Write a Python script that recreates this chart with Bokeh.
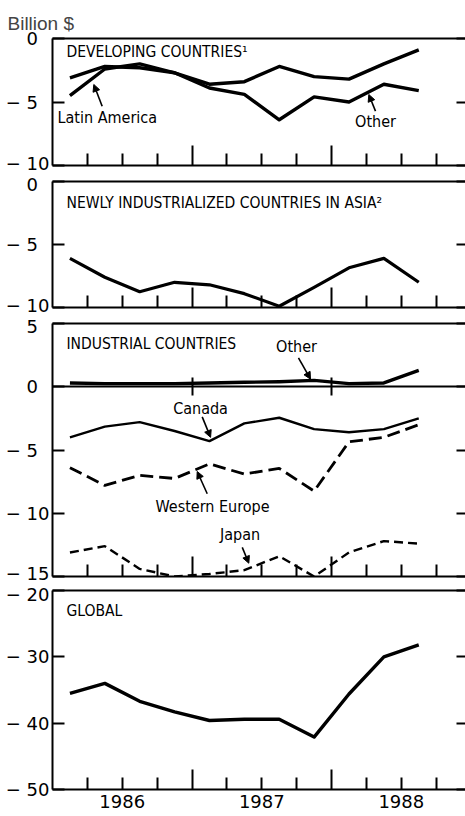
from bokeh.plotting import figure
from bokeh.models import (Range1d, FixedTicker, LinearAxis, Label, Arrow,
                          NormalHead, ColumnDataSource)
from bokeh.layouts import column
from bokeh.embed import file_html
from bokeh.resources import INLINE

# ---------------- data (billion $, quarterly) ----------------
quarters = ["1986Q1", "1986Q2", "1986Q3", "1986Q4",
            "1987Q1", "1987Q2", "1987Q3", "1987Q4",
            "1988Q1", "1988Q2", "1988Q3"]

latin_america    = [-4.5, -2.4, -2.0, -2.7, -3.6, -3.4, -2.2, -3.0, -3.2, -2.0, -0.9]
other_developing = [-3.1, -2.2, -2.3, -2.7, -3.9, -4.4, -6.4, -4.6, -5.0, -3.6, -4.1]

newly_industrialized_asia = [-6.1, -7.6, -8.75, -8.0, -8.2, -8.9, -9.9, -8.4, -6.85, -6.1, -8.0]

other_industrial = [0.3, 0.25, 0.25, 0.25, 0.3, 0.35, 0.4, 0.5, 0.25, 0.3, 1.3]
canada           = [-4.0, -3.15, -2.8, -3.5, -4.3, -2.9, -2.45, -3.35, -3.6, -3.35, -2.5]
western_europe   = [-6.4, -7.8, -7.0, -7.25, -6.1, -6.9, -6.45, -8.25, -4.35, -4.0, -3.0]
japan            = [-13.1, -12.6, -14.4, -15.0, -14.8, -14.5, -13.4, -15.0, -13.1, -12.2, -12.4]

global_balance = [-35.5, -34.0, -36.7, -38.3, -39.6, -39.4, -39.4, -42.1, -35.6, -30.0, -28.2]

years = [1986, 1987, 1988]
year_labels = ["1986", "1987", "1988"]

dev_ticks = [0, -5, -10]
dev_tick_labels = ["0\u2007", "\u2212 5\u2007", "\u2212 10"]
nic_ticks = [0, -5, -10]
nic_tick_labels = ["0\u2007", "\u2212 5\u2007", "\u2212 10"]
ind_ticks = [5, 0, -5, -10, -15]
ind_tick_labels = ["5\u2007", "0\u2007", "\u2212 5\u2007", "\u2212 10", "\u2212 15"]
glob_ticks = [-20, -30, -40, -50]
glob_tick_labels = ["\u2212 20", "\u2212 30", "\u2212 40", "\u2212 50"]

# ---------------- helpers ----------------
def qpos(q):
    return int(q[:4]) + (int(q[5]) - 0.5) / 4.0

x = [qpos(q) for q in quarters]

src = ColumnDataSource(dict(
    x=x, la=latin_america, od=other_developing, nic=newly_industrialized_asia,
    oi=other_industrial, ca=canada, we=western_europe, jp=japan, gl=global_balance))

NUM_FONT = "'DejaVu Sans', sans-serif"
NARROW = "'DejaVu Sans Condensed', sans-serif"
REG = "'Liberation Sans', Arial, sans-serif"

year_ticks = years[1:]
quarter_ticks = [y + k / 4.0 for y in years for k in (1, 2, 3)]

X_RANGE = Range1d(1986.0, 1988.96)


def hide_labels(axis):
    axis.major_label_text_color = None
    axis.major_label_text_alpha = 0
    axis.major_label_text_font_size = "1px"
    axis.major_label_standoff = 0


def make_panel(height, yr, yticks, ylabels, top, bottom, title=None):
    p = figure(width=465, height=height, x_range=X_RANGE, y_range=Range1d(*yr),
               output_backend="svg", toolbar_location=None,
               x_axis_type=None, y_axis_type=None,
               min_border_left=52, min_border_right=0,
               min_border_top=top, min_border_bottom=bottom)
    p.outline_line_color = None
    p.background_fill_color = "white"
    p.border_fill_color = "white"

    left = LinearAxis(ticker=FixedTicker(ticks=yticks, minor_ticks=[]),
                      major_label_overrides={t: l for t, l in zip(yticks, ylabels)},
                      axis_line_width=2, axis_line_color="black",
                      major_tick_in=12, major_tick_out=0, major_tick_line_width=2,
                      minor_tick_in=0, minor_tick_out=0,
                      major_label_standoff=3,
                      major_label_text_font=NUM_FONT,
                      major_label_text_font_size="18px",
                      major_label_text_color="black")
    p.add_layout(left, "left")

    right = LinearAxis(ticker=FixedTicker(ticks=yticks, minor_ticks=[]),
                       axis_line_color=None,
                       major_tick_in=9, major_tick_out=0, major_tick_line_width=2,
                       minor_tick_in=0, minor_tick_out=0)
    hide_labels(right)
    p.add_layout(right, "right")

    top_axis = LinearAxis(ticker=FixedTicker(ticks=[], minor_ticks=[]),
                          axis_line_width=2, axis_line_color="black",
                          major_tick_in=0, major_tick_out=0,
                          minor_tick_in=0, minor_tick_out=0)
    hide_labels(top_axis)
    p.add_layout(top_axis, "above")

    bottom_axis = LinearAxis(ticker=FixedTicker(ticks=year_ticks, minor_ticks=quarter_ticks),
                             axis_line_width=2, axis_line_color="black",
                             major_tick_in=20, major_tick_out=0, major_tick_line_width=2,
                             minor_tick_in=12, minor_tick_out=0, minor_tick_line_width=2,
                             minor_tick_line_color="black")
    hide_labels(bottom_axis)
    p.add_layout(bottom_axis, "below")

    if title is not None:
        lbl = Label(x=1986.1, y=title[1], text=title[0], text_font=NARROW,
                    text_font_size="15.5px", text_baseline="middle",
                    text_align="left", text_color="black")
        p.add_layout(lbl)
    return p


def note(p, xx, yy, text, align="center"):
    p.add_layout(Label(x=xx, y=yy, text=text, text_font=NARROW,
                       text_font_size="16px", text_baseline="middle",
                       text_align=align, text_color="black"))


def arrow(p, x0, y0, x1, y1):
    p.add_layout(Arrow(end=NormalHead(size=7, fill_color="black", line_color="black",
                                      line_width=1),
                       x_start=x0, y_start=y0, x_end=x1, y_end=y1,
                       line_color="black", line_width=1.6))


# ---------------- panel 1: developing countries ----------------
p1 = make_panel(173, (-10, 0), dev_ticks, dev_tick_labels, 38, 8,
                ("DEVELOPING COUNTRIES\u00b9", -1.1))
p1.title.text = "Billion $"
p1.title.align = "left"
p1.title.offset = -45
p1.title.text_font = REG
p1.title.text_font_size = "19px"
p1.title.text_font_style = "normal"
p1.title.standoff = 9
p1.line("x", "la", source=src, line_width=3.4, color="black", line_join="round")
p1.line("x", "od", source=src, line_width=3.4, color="black", line_join="round")
note(p1, 1986.036, -6.2, "Latin America", align="left")
arrow(p1, 1986.356, -5.33, 1986.296, -3.62)
note(p1, 1988.315, -6.5, "Other")
arrow(p1, 1988.315, -5.72, 1988.267, -4.41)

# ---------------- panel 2: NICs in Asia ----------------
p2 = make_panel(142, (-10, 0), nic_ticks, nic_tick_labels, 8, 8,
                ("NEWLY INDUSTRIALIZED COUNTRIES IN ASIA\u00b2", -1.67))
p2.line("x", "nic", source=src, line_width=3.2, color="black", line_join="round")

# ---------------- panel 3: industrial countries ----------------
p3 = make_panel(268, (-15, 5), ind_ticks, ind_tick_labels, 8, 7,
                ("INDUSTRIAL COUNTRIES", 3.4))
zero_axis = LinearAxis(fixed_location=0,
                       ticker=FixedTicker(ticks=year_ticks, minor_ticks=[]),
                       axis_line_width=2, axis_line_color="black",
                       major_tick_in=9, major_tick_out=9, major_tick_line_width=2,
                       minor_tick_in=0, minor_tick_out=0)
hide_labels(zero_axis)
p3.add_layout(zero_axis, "below")
p3.line("x", "oi", source=src, line_width=3.4, color="black", line_join="round")
p3.line("x", "ca", source=src, line_width=2.4, color="black", line_join="round")
p3.line("x", "we", source=src, line_width=2.8, color="black", line_dash="13 6")
p3.line("x", "jp", source=src, line_width=2.4, color="black", line_dash="9 5")
note(p3, 1987.749, 3.15, "Other")
arrow(p3, 1987.763, 2.28, 1987.849, 0.6)
note(p3, 1987.061, -1.69, "Canada")
arrow(p3, 1987.073, -2.38, 1987.133, -4.0)
note(p3, 1987.147, -9.47, "Western Europe")
arrow(p3, 1987.109, -8.46, 1987.037, -6.7)
note(p3, 1987.344, -11.7, "Japan")
arrow(p3, 1987.36, -12.7, 1987.407, -13.95)

# ---------------- panel 4: global ----------------
p4 = make_panel(233, (-50, -20), glob_ticks, glob_tick_labels, 7, 27,
                ("GLOBAL", -23.1))
year_axis = LinearAxis(ticker=FixedTicker(ticks=[y + 0.5 for y in years], minor_ticks=[]),
                       major_label_overrides={y + 0.5: l for y, l in zip(years, year_labels)},
                       axis_line_color=None,
                       major_tick_in=0, major_tick_out=0,
                       minor_tick_in=0, minor_tick_out=0,
                       major_label_standoff=5,
                       major_label_text_font=NUM_FONT,
                       major_label_text_font_size="18px",
                       major_label_text_color="black")
p4.add_layout(year_axis, "below")
p4.line("x", "gl", source=src, line_width=3.4, color="black", line_join="round")

layout = column(p1, p2, p3, p4, spacing=0)
open("out.html", "w").write(file_html(layout, INLINE))
